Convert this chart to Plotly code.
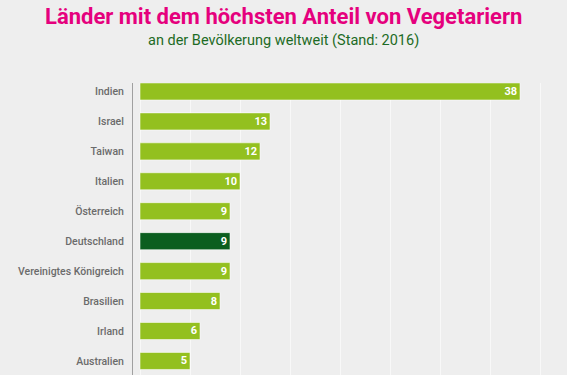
import plotly.graph_objects as go

countries = ["Indien", "Israel", "Taiwan", "Italien", "Österreich", "Deutschland",
             "Vereinigtes Königreich", "Brasilien", "Irland", "Australien"]
shares = [38, 13, 12, 10, 9, 9, 9, 8, 6, 5]
highlight = "Deutschland"

LIME = "#93c01f"
DARK = "#0b5e1f"
colors = [DARK if c == highlight else LIME for c in countries]

W, H = 567, 375
ML, MR, MT, MB = 133, 17, 83, 0
PH = H - MT - MB
PW = W - ML - MR

def py(pix):
    return (H - MB - pix) / PH

fig = go.Figure(go.Bar(
    x=shares, y=countries, orientation="h",
    marker=dict(color=colors, line=dict(color="rgba(255,255,255,0.55)", width=1)),
    width=0.57,
    text=[str(v) for v in shares], textposition="inside", insidetextanchor="end",
    textangle=0, constraintext="none",
    textfont=dict(color="white", size=11, family="Roboto", weight="bold"),
    cliponaxis=False, hoverinfo="skip",
))

fig.update_layout(
    width=W, height=H,
    paper_bgcolor="#eeeeee", plot_bgcolor="#eeeeee",
    margin=dict(l=ML, r=MR, t=MT, b=MB, autoexpand=False),
    showlegend=False,
    font=dict(family="Roboto", color="#666666"),
    annotations=[
        dict(text="<b>Länder mit dem höchsten Anteil von Vegetariern</b>",
             x=(W / 2 - ML) / PW, y=py(2), xref="paper", yref="paper",
             xanchor="center", yanchor="top",
             showarrow=False, font=dict(size=22, color="#e5007d", family="Roboto")),
        dict(text="an der Bevölkerung weltweit (Stand: 2016)",
             x=(W / 2 - ML) / PW, y=py(30), xref="paper", yref="paper",
             xanchor="center", yanchor="top",
             showarrow=False, font=dict(size=14.5, color="#1d6b25", family="Roboto")),
    ],
)
fig.update_xaxes(range=[-0.7, 41], showgrid=True, gridcolor="#f8f8f8", gridwidth=1,
                 tick0=0, dtick=5, showticklabels=False, zeroline=False, fixedrange=True,
                 automargin=False)
fig.update_yaxes(categoryorder="array", categoryarray=countries, automargin=False,
                 range=[9.47, -0.283], showgrid=False, showline=True, linecolor="#a0a0a0",
                 linewidth=1, ticks="outside", ticklen=6, tickcolor="rgba(0,0,0,0)",
                 tickfont=dict(size=10.5, color="#6b6b6b", family="Roboto", weight=500),
                 fixedrange=True)

fig.write_html("out.html", config={"displayModeBar": False, "staticPlot": True},
               post_script="document.body.style.margin='0px';")
